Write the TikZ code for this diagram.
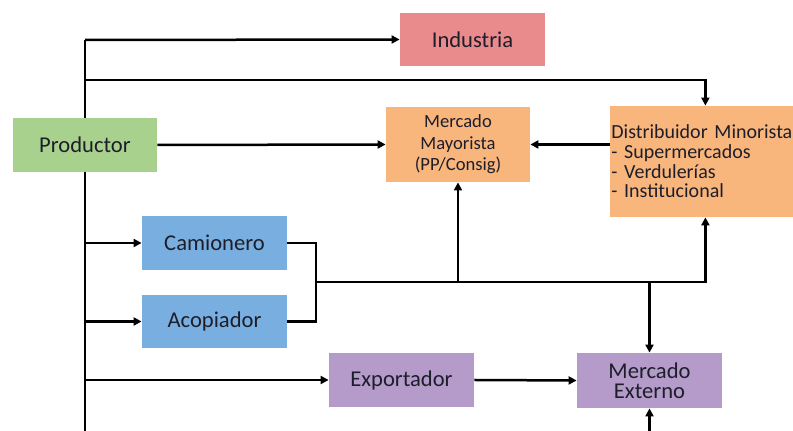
\documentclass[tikz,border=0pt]{standalone}
\usepackage{fontspec}
\setmainfont{Carlito}
\usetikzlibrary{positioning, arrows.meta}
\usepackage{xcolor}
\definecolor{prodgreen}{HTML}{A9D18E}
\definecolor{indred}{HTML}{E98A8D}
\definecolor{mayorange}{HTML}{F8B57C}
\definecolor{camblue}{HTML}{78AFE0}
\definecolor{expurple}{HTML}{B49BCA}
\definecolor{txt}{HTML}{1E1E2A}

\begin{document}
\begin{tikzpicture}[x=0.5pt, y=-0.5pt]
\tikzstyle{block} = [rectangle, inner sep=1pt, text=txt, align=center,
    minimum width=72.5pt, minimum height=27pt,
    font=\fontsize{11.3}{10.5}\selectfont]
\tikzstyle{line} = [draw, line width=1.25pt, -{Triangle[length=4pt, width=4pt]}]
\tikzstyle{wire} = [draw, line width=1.25pt]

\useasboundingbox (0,0) rectangle (793,431);

\node (prod) [block, fill=prodgreen, minimum width=72pt] at (85,145) {Productor};
\node (ind) [block, fill=indred, minimum height=26.5pt] at (472.5,39.5) {Industria};
\node (mayo) [block, fill=mayorange, minimum width=72pt, minimum height=37.5pt,
    font=\fontsize{9.3}{10.8}\selectfont] at (458,144.5) {Mercado\\Mayorista\\(PP/Consig)};
\node (dist) [block, fill=mayorange, anchor=west, align=left, inner xsep=0.5pt,
    text width=94pt, minimum height=55.5pt,
    font=\fontsize{10}{9.8}\selectfont] at (610,161.5)
    {Distribuidor Minorista\\- Supermercados\\- Verdulerías\\- Institucional};
\node (cam) [block, fill=camblue] at (214.5,243) {Camionero};
\node (acop) [block, fill=camblue, minimum height=26.5pt] at (214.5,321.5) {Acopiador};
\node (expo) [block, fill=expurple] at (401.5,380) {Exportador};
\node (ext) [block, fill=expurple, minimum height=27.5pt,
    font=\fontsize{11.3}{10}\selectfont] at (649.5,380.5) {Mercado\\Externo};

\coordinate (top) at (85,40);
\coordinate (split) at (85,80);
\coordinate (bot) at (85,431);
\coordinate (brk) at (316,282);

\path[wire] (top) -- (prod.north);
\path[wire] (prod.south) -- (bot);
\path[line] (top) -- (ind.west);
\path[line] (split) -| (dist.north);
\path[line] (prod.east) -- (mayo.west);
\path[line] (dist.west |- mayo.east) -- (mayo.east);
\path[line] (prod.south |- cam.west) -- (cam.west);
\path[line] (prod.south |- acop.west) -- (acop.west);
\path[line] (prod.south |- expo.west) -- (expo.west);
\path[wire] (cam.east) -| (brk) |- (acop.east);
\path[line] (brk) -| (dist.south);
\path[line] (mayo.south |- brk) -- (mayo.south);
\path[line] (ext.north |- brk) -- (ext.north);
\path[line] (expo.east) -- (ext.west);
\path[line] (ext.south |- bot) -- (ext.south);
\end{tikzpicture}
\end{document}
